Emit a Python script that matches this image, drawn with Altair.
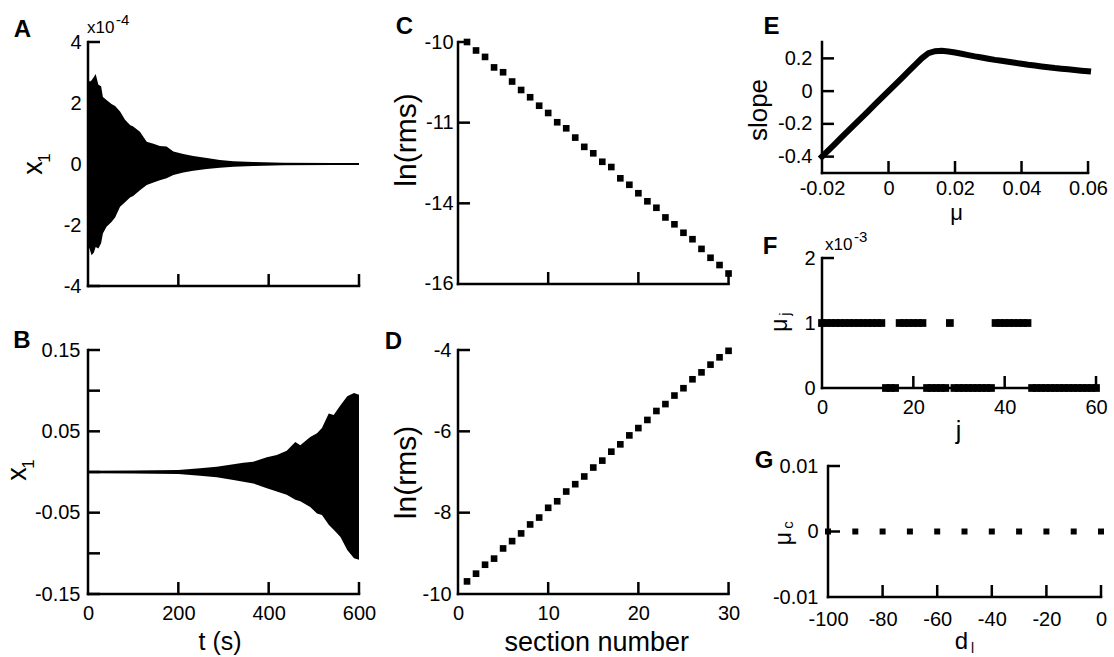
import altair as alt
import pandas as pd

FONT = "Liberation Sans"
LW = 2.5
TK = 12
LBL = 20

# ---------------- data ----------------
# Panel A: envelope of x1 (units of 1e-4)
tA = [0, 4, 8, 13, 17, 23, 29, 33, 41, 52, 60, 71, 82, 93, 100, 115, 130, 145,
      159, 174, 189, 211, 233, 263, 292, 322, 366, 432, 543, 600]
upA = [2.8, 2.7, 2.75, 2.85, 2.95, 2.6, 2.55, 2.2, 2.1, 1.97, 1.9, 1.72, 1.45, 1.28,
       1.23, 1.06, 0.73, 0.66, 0.59, 0.57, 0.41, 0.33, 0.26, 0.2, 0.13, 0.09, 0.066,
       0.044, 0.033, 0.033]
loA = [-2.66, -2.8, -2.99, -2.9, -2.72, -2.77, -2.6, -2.28, -2.06, -1.9, -1.75, -1.4,
       -1.25, -1.1, -1.05, -0.86, -0.69, -0.61, -0.53, -0.47, -0.36, -0.28, -0.22,
       -0.16, -0.12, -0.09, -0.066, -0.044, -0.033, -0.033]

# Panel B: envelope of x1
tB = [0, 100, 200, 248, 285, 322, 344, 366, 396, 418, 440, 459, 470, 492, 507, 518,
      533, 544, 559, 574, 589, 600]
upB = [0.0015, 0.0017, 0.0025, 0.0045, 0.0066, 0.0094, 0.0115, 0.0127, 0.018, 0.021,
       0.026, 0.037, 0.033, 0.043, 0.0475, 0.054, 0.072, 0.070, 0.082, 0.093, 0.097, 0.095]
loB = [-0.0015, -0.0017, -0.0025, -0.0045, -0.0066, -0.0098, -0.012, -0.014, -0.020,
       -0.024, -0.028, -0.034, -0.036, -0.043, -0.051, -0.053, -0.065, -0.071, -0.080,
       -0.096, -0.106, -0.108]

# Panel C
secC = list(range(1, 31))
lnC = [-10.00, -10.21, -10.37, -10.63, -10.75, -10.98, -11.19, -11.37, -11.58, -11.76,
       -11.99, -12.14, -12.37, -12.60, -12.76, -12.97, -13.10, -13.38, -13.54, -13.75,
       -13.95, -14.11, -14.35, -14.52, -14.73, -14.89, -15.13, -15.35, -15.53, -15.74]

# Panel D
secD = list(range(1, 31))
lnD = [-9.69, -9.50, -9.28, -9.13, -8.88, -8.70, -8.51, -8.29, -8.12, -7.88,
       -7.72, -7.48, -7.30, -7.11, -6.89, -6.72, -6.50, -6.32, -6.10, -5.92,
       -5.72, -5.50, -5.33, -5.12, -4.94, -4.72, -4.55, -4.36, -4.18, -4.02]

# Panel E
muE = [-0.020, -0.018, -0.016, -0.014, -0.012, -0.010, -0.008, -0.006, -0.004, -0.002,
       0.000, 0.002, 0.004, 0.006, 0.008, 0.010, 0.012, 0.014, 0.016, 0.018, 0.020,
       0.022, 0.024, 0.026, 0.028, 0.030, 0.032, 0.034, 0.036, 0.038, 0.040, 0.042,
       0.044, 0.046, 0.048, 0.050, 0.052, 0.054, 0.056, 0.058, 0.060]
slopeE = [-0.40, -0.36, -0.32, -0.28, -0.24, -0.20, -0.16, -0.12, -0.08, -0.04,
          0.00, 0.04, 0.08, 0.12, 0.16, 0.20, 0.232, 0.244, 0.246, 0.242, 0.236,
          0.228, 0.220, 0.212, 0.205, 0.198, 0.191, 0.185, 0.179, 0.173, 0.167, 0.161,
          0.156, 0.151, 0.146, 0.141, 0.137, 0.133, 0.129, 0.125, 0.121]

# Panel F (mu_j in units of 1e-3)
jF = list(range(61))
muF = ([1] * 14 + [0] * 3 + [1] * 6 + [0] * 5 + [1] * 1 + [0] * 9 + [1] * 8 + [0] * 15)

# Panel G
dG = [-100, -90, -80, -70, -60, -50, -40, -30, -20, -10, 0]
muG = [0, 0, 0, 0, 0, 0, 0, 0, 0, 0, 0]


# ---------------- helpers ----------------
def axis(values, pad, expr="datum.value + ''"):
    return alt.Axis(values=values, labelExpr=expr, labelPadding=pad, domain=False,
                    ticks=False, grid=False, title=None, labelFont=FONT,
                    labelFontSize=LBL, labelColor="black", labelFlush=False,
                    labelOverlap=False)


def txt(s, x, y, size, angle=0, bold=False, align="center", baseline="middle"):
    return alt.Chart(pd.DataFrame({"s": [s]})).mark_text(
        font=FONT, fontSize=size, angle=angle, align=align, baseline=baseline,
        fontWeight="bold" if bold else "normal", color="black"
    ).encode(text="s:N", x=alt.value(x), y=alt.value(y))


def extent(x1, x2, y):
    # invisible helper that fixes the horizontal extent of a column
    return alt.Chart(pd.DataFrame({"k": [0]})).mark_rule(
        opacity=0, strokeWidth=1
    ).encode(x=alt.value(x1), x2=alt.value(x2), y=alt.value(y))


def panel(w, h, xdom, ydom, xax, yax, xr, yr, xtv, ytv, marks, texts, ext=None):
    xs = alt.Scale(domain=xdom, nice=False, zero=False)
    ys = alt.Scale(domain=ydom, nice=False, zero=False)

    def X(f):
        return alt.X(f, type="quantitative", scale=xs, axis=xax)

    def Y(f):
        return alt.Y(f, type="quantitative", scale=ys, axis=yax)

    layers = [m(X, Y) for m in marks]
    xmin, xmax = xr
    ymin, ymax = yr
    layers.append(alt.Chart(pd.DataFrame({"a": [xmin], "b": [xmax], "c": [ymin]}))
                  .mark_rule(color="black", strokeWidth=LW, strokeCap="square")
                  .encode(x=X("a"), x2="b", y=Y("c")))
    layers.append(alt.Chart(pd.DataFrame({"a": [xmin], "c": [ymin], "d": [ymax]}))
                  .mark_rule(color="black", strokeWidth=LW, strokeCap="square")
                  .encode(x=X("a"), y=Y("c"), y2="d"))
    layers.append(alt.Chart(pd.DataFrame({"a": xtv, "c": [ymin] * len(xtv)}))
                  .mark_tick(orient="vertical", size=TK, thickness=LW, yOffset=-TK / 2,
                             color="black", opacity=1)
                  .encode(x=X("a"), y=Y("c")))
    layers.append(alt.Chart(pd.DataFrame({"a": [xmin] * len(ytv), "c": ytv}))
                  .mark_tick(orient="horizontal", size=TK, thickness=LW, xOffset=TK / 2,
                             color="black", opacity=1)
                  .encode(x=X("a"), y=Y("c")))
    for t in texts:
        layers.append(txt(*t[:4], **(t[4] if len(t) > 4 else {})))
    if ext is not None:
        layers.append(extent(*ext))
    return alt.layer(*layers).properties(width=w, height=h)


R = {"angle": 270}
BOLD = {"bold": True}
LA = {"align": "left", "baseline": "alphabetic"}
AB = {"baseline": "alphabetic"}
LT = 24  # panel letter size

dfA = pd.DataFrame({"t": tA, "u": upA, "l": loA})
dfB = pd.DataFrame({"t": tB, "u": upB, "l": loB})
dfC = pd.DataFrame({"n": secC, "v": lnC})
dfD = pd.DataFrame({"n": secD, "v": lnD})
dfE = pd.DataFrame({"m": muE, "s": slopeE})
dfF = pd.DataFrame({"j": jF, "m": muF})
dfG = pd.DataFrame({"d": dG, "m": muG})

# column boundaries (global px): col1 0..380, col2 380..742, col3 742..1114
A = panel(277, 244, [0, 613.3], [-4, 4], None, axis([4, 2, 0, -2, -4], 7),
          (0, 600), (-4, 4), [200, 400, 600], [4, 2, 0, -2, -4],
          [lambda X, Y: alt.Chart(dfA).mark_area(color="black", opacity=1)
           .encode(x=X("t"), y=Y("u"), y2="l")],
          [("A", -65.5, -12.5, LT, BOLD), ("x", -54, 126, 27, R), ("1", -43, 116, 17, R),
           ("x10", -1, -9, 17, LA), ("-4", 28, -17, 15, LA)],
          ext=(-88, 292, -42))

B = panel(277, 244, [0, 613.3], [-0.15, 0.15], axis([0, 200, 400, 600], 9),
          axis([0.15, 0.05, -0.05, -0.15], 8),
          (0, 600), (-0.15, 0.15), [200, 400, 600],
          [0.15, 0.1, 0.05, 0, -0.05, -0.1, -0.15],
          [lambda X, Y: alt.Chart(dfB).mark_area(color="black", opacity=1)
           .encode(x=X("t"), y=Y("u"), y2="l")],
          [("B", -66, -9, LT, BOLD), ("x", -69.7, 124, 27, R), ("1", -58.7, 114, 17, R),
           ("t (s)", 132, 300, 25, AB)])

C = panel(271, 244, [0, 30.05], [-16.05, -10], None,
          axis([-10, -12, -14, -16], 5, "datum.value == -12 ? '-11' : datum.value + ''"),
          (0, 30), (-16, -10), [10, 20, 30], [-10, -12, -14],
          [lambda X, Y: alt.Chart(dfC).mark_square(size=44, color="black", opacity=1)
           .encode(x=X("n"), y=Y("v"))],
          [("C", -53.5, -15.5, LT, BOLD), ("ln(rms)", -51, 98, 30, R)],
          ext=(-78, 284, -42))

D = panel(271, 244, [0, 30.05], [-10, -4], axis([0, 10, 20, 30], 9),
          axis([-4, -6, -8, -10], 7),
          (0, 30), (-10, -4), [10, 20, 30], [-4, -6, -8],
          [lambda X, Y: alt.Chart(dfD).mark_square(size=44, color="black", opacity=1)
           .encode(x=X("n"), y=Y("v"))],
          [("D", -64.5, -8.5, LT, BOLD), ("ln(rms)", -51, 122.5, 30, R),
           ("section number", 138.7, 301, 27, AB)])

E = panel(279, 131, [-0.02, 0.0639], [-0.5, 0.3], axis([-0.02, 0, 0.02, 0.04, 0.06], 5),
          axis([0.2, 0, -0.2, -0.4], 10),
          (-0.02, 0.06), (-0.5, 0.3), [0, 0.02, 0.04, 0.06], [0.2, 0, -0.2, -0.4],
          [lambda X, Y: alt.Chart(dfE).mark_line(color="black", strokeWidth=6,
                                                 strokeCap="square", strokeJoin="miter")
           .encode(x=X("m"), y=Y("s"))],
          [("E", -50.5, -15.5, LT, BOLD), ("slope", -63, 68, 26, R),
           ("μ", 134.5, 178, 22, AB)],
          ext=(-80, 292, -42))

F = panel(279, 137, [0, 61.09], [0, 2.108], axis([0, 20, 40, 60], 9), axis([0, 1, 2], 7),
          (0, 60), (0, 2), [20, 40, 60], [2, 1],
          [lambda X, Y: alt.Chart(dfF).mark_square(size=60, color="black", opacity=1)
           .encode(x=X("j"), y=Y("m"))],
          [("F", -52, -4.5, LT, BOLD), ("μ", -42, 74, 23, R), ("j", -37, 63, 15, R),
           ("x10", 3, -1, 17, LA), ("-3", 32, -9, 15, LA), ("j", 136.5, 188, 25, AB)])

G = panel(279, 131, [-102.2, 0], [-0.01, 0.01],
          axis([-100, -80, -60, -40, -20, 0], 12), axis([0.01, 0, -0.01], 4),
          (-100, 0), (-0.01, 0.01), [-80, -60, -40, -20, 0], [0.01, 0],
          [lambda X, Y: alt.Chart(dfG).mark_square(size=36, color="black", opacity=1)
           .encode(x=X("d"), y=Y("m"))],
          [("G", -58, -5, LT, BOLD), ("μ", -38.5, 72.5, 23, R), ("c", -34, 59, 15, R),
           ("d", 139.5, 183, 24, AB), ("l", 150.5, 187, 14, AB)])

col1 = alt.vconcat(A, B, spacing=64, bounds="flush")
col2 = alt.vconcat(C, D, spacing=64, bounds="flush")
col3 = alt.vconcat(E, F, G, spacing=78, bounds="flush")

chart = alt.hconcat(col1, col2, col3, spacing=0).properties(
    padding={"left": 0, "top": 0, "right": 0, "bottom": 0},
    background="white",
).configure_view(stroke=None)

chart.save("out.html", embed_options={"renderer": "svg", "actions": False})
